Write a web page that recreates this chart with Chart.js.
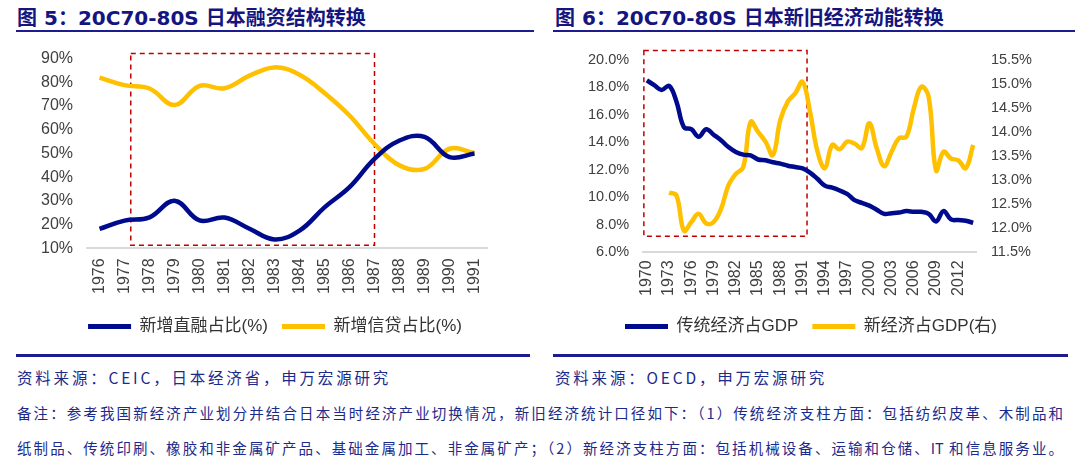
<!DOCTYPE html>
<html>
<head>
<meta charset="utf-8">
<script src="https://cdn.jsdelivr.net/npm/chart.js@4/dist/chart.umd.min.js"></script>
<style>
    body { margin: 0; width: 1080px; height: 468px; background: #fff; position: relative; overflow: hidden;
           font-family: "Liberation Sans", "Noto Sans CJK SC", sans-serif; }
    .titulo { position: absolute; top: 2px; font: bold 20px "DejaVu Sans", "Noto Sans CJK SC", sans-serif; color: #15157f; white-space: nowrap; }
    .linha { position: absolute; height: 2px; background: #1c1c8f; }
    .fonte { position: absolute; top: 366px; font-size: 15.5px; letter-spacing: 2.8px; color: #1c2a8c; font-family: "Noto Sans CJK SC", sans-serif; white-space: nowrap; }
    .nota { position: absolute; left: 17px; width: 1046px; font-size: 14.5px; color: #1c2a8c; font-family: "Noto Sans CJK SC", sans-serif;
            text-align: justify; text-align-last: justify; white-space: nowrap; }
    .caixa { position: absolute; width: 540px; }
</style>
</head>
<body>

<div class="titulo" style="left:17px">图 5：20C70-80S 日本融资结构转换</div>
<div class="linha" style="left:16px; width:518px; top:30px"></div>
<div class="titulo" style="left:555px">图 6：20C70-80S 日本新旧经济动能转换</div>
<div class="linha" style="left:553px; width:522px; top:30px"></div>

<div class="caixa" style="left:0; top:35px; height:310px"><canvas id="graficoFinanciamento"></canvas></div>
<div class="caixa" style="left:540px; top:37px; height:308px"><canvas id="graficoEconomia"></canvas></div>

<div class="linha" style="left:16px; width:514px; top:354px; height:3px"></div>
<div class="linha" style="left:553px; width:515px; top:354px; height:3px"></div>
<div class="fonte" style="left:17px">资料来源：CEIC，日本经济省，申万宏源研究</div>
<div class="fonte" style="left:555px">资料来源：OECD，申万宏源研究</div>
<div class="nota" style="top:402px">备注：参考我国新经济产业划分并结合日本当时经济产业切换情况，新旧经济统计口径如下：（1）传统经济支柱方面：包括纺织皮革、木制品和</div>
<div class="nota" style="top:437px">纸制品、传统印刷、橡胶和非金属矿产品、基础金属加工、非金属矿产；（2）新经济支柱方面：包括机械设备、运输和仓储、IT 和信息服务业。</div>

<script>
/* ============================
   DADOS - GRÁFICO 5
============================ */

const anosFin = ["1976", "1977", "1978", "1979", "1980", "1981", "1982", "1983",
                 "1984", "1985", "1986", "1987", "1988", "1989", "1990", "1991"];
const diretoPct = [18.2, 21.7, 23.1, 30.1, 21.8, 23.0, 18.3, 13.8, 17.5, 27.3, 35.8, 47.7, 55.5, 57.0, 48.5, 50.0];
const creditoPct = [82.0, 78.8, 77.4, 70.4, 78.5, 77.5, 82.8, 86.3, 83.2, 75.5, 66.0, 54.0, 45.0, 43.5, 52.0, 50.2];
const ticksFin = [10, 20, 30, 40, 50, 60, 70, 80, 90];

/* ============================
   DADOS - GRÁFICO 6
============================ */

const anosEco = ["1970", "1971", "1972", "1973", "1974", "1975", "1976", "1977", "1978", "1979",
                 "1980", "1981", "1982", "1983", "1984", "1985", "1986", "1987", "1988", "1989",
                 "1990", "1991", "1992", "1993", "1994", "1995", "1996", "1997", "1998", "1999",
                 "2000", "2001", "2002", "2003", "2004", "2005", "2006", "2007", "2008", "2009",
                 "2010", "2011", "2012", "2013", "2014"];
const tradicional = [18.5, 18.15, 17.8, 18.1, 16.95, 15.1, 14.95, 14.4, 14.95, 14.55,
                     14.15, 13.65, 13.3, 13.1, 13.05, 12.75, 12.7, 12.55, 12.45, 12.3,
                     12.2, 12.1, 11.8, 11.35, 10.85, 10.7, 10.5, 10.25, 9.8, 9.6,
                     9.4, 9.1, 8.8, 8.85, 8.9, 9.0, 8.95, 8.95, 8.8, 8.25,
                     9.0, 8.4, 8.35, 8.3, 8.15];
const novaEconomia = [null, null, null, 12.74, 12.68, 11.95, 12.13, 12.3, 12.1, 12.13,
                      12.4, 12.89, 13.13, 13.27, 14.21, 14.0, 13.8, 13.52, 14.25, 14.63,
                      14.8, 15.04, 14.42, 13.6, 13.25, 13.73, 13.64, 13.8, 13.76, 13.67,
                      14.18, 13.66, 13.29, 13.59, 13.87, 13.9, 14.49, 14.94, 14.73, 13.2,
                      13.59, 13.45, 13.41, 13.25, 13.73];
const ticksEsq = [6, 8, 10, 12, 14, 16, 18, 20];
const ticksDir = [11.5, 12.0, 12.5, 13.0, 13.5, 14.0, 14.5, 15.0, 15.5];

/* ============================
   ESTILO
============================ */

const AZUL = "#000a8c";
const AMARELO = "#ffc000";
const VERMELHO = "#c00000";
const CINZA_TEXTO = "#404040";
const FONTE = "'Liberation Sans', 'Noto Sans CJK SC', sans-serif";

// retângulo tracejado, em unidades dos eixos (índice de categoria / valor)
function pluginRetangulo(caixa, eixoY) {
    return {
        id: "retangulo",
        beforeDatasetsDraw(chart) {
            const x = chart.scales.x;
            const y = chart.scales[eixoY];
            const passo = x.getPixelForValue(1) - x.getPixelForValue(0);
            const x1 = x.getPixelForValue(0) + caixa.de * passo;
            const x2 = x.getPixelForValue(0) + caixa.ate * passo;
            const y1 = y.getPixelForValue(caixa.topo);
            const y2 = y.getPixelForValue(caixa.base);
            const ctx = chart.ctx;
            ctx.save();
            ctx.strokeStyle = VERMELHO;
            ctx.lineWidth = 1.5;
            ctx.setLineDash([5, 4]);
            ctx.strokeRect(x1, y1, x2 - x1, y2 - y1);
            ctx.restore();
        }
    };
}

// desloca a legenda na horizontal
function pluginDeslocaLegenda(dx) {
    return {
        id: "deslocaLegenda",
        afterLayout(chart) {
            chart.legend.left += dx;
            chart.legend.right += dx;
        }
    };
}

function legendaLinhas(chart) {
    const itens = Chart.defaults.plugins.legend.labels.generateLabels(chart);
    itens.forEach(i => { i.lineWidth = 0; i.fillStyle = chart.data.datasets[i.datasetIndex].borderColor; });
    return itens;
}

function serie(label, data, cor, eixo) {
    return {
        label, data,
        yAxisID: eixo,
        borderColor: cor,
        backgroundColor: cor,
        borderWidth: 4.5,
        pointRadius: 0,
        tension: 0.4,
        spanGaps: false
    };
}

function eixoX(rotulos, mostrar, espaco) {
    return {
        offset: true,
        grid: { display: false, drawTicks: false },
        border: { display: true, color: "#d9d9d9", width: 2 },
        ticks: {
            autoSkip: false, maxRotation: 90, minRotation: 90, padding: espaco,
            color: CINZA_TEXTO, font: { family: FONTE, size: 16 },
            callback: (v, i) => mostrar(i) ? rotulos[i] : ""
        }
    };
}

function eixoY(ticks, pos, casas, tamanho) {
    return {
        position: pos,
        min: ticks[0], max: ticks[ticks.length - 1],
        afterBuildTicks: s => { s.ticks = ticks.map(v => ({ value: v })); },
        grid: { display: false, drawTicks: false },
        border: { display: false },
        ticks: {
            autoSkip: false, padding: 14, color: CINZA_TEXTO, font: { family: FONTE, size: tamanho },
            callback: v => v.toFixed(casas) + "%"
        }
    };
}

function legenda() {
    return {
        position: "bottom",
        labels: {
            boxWidth: 43, boxHeight: 5, padding: 14,
            color: "#333", font: { family: FONTE, size: 17 },
            generateLabels: legendaLinhas
        }
    };
}

/* ============================
   GRÁFICO 5
============================ */

new Chart(document.getElementById("graficoFinanciamento"), {
    type: "line",
    data: {
        labels: anosFin,
        datasets: [
            serie("新增直融占比(%)", diretoPct, AZUL, "y"),
            serie("新增信贷占比(%)", creditoPct, AMARELO, "y")
        ]
    },
    options: {
        responsive: true, maintainAspectRatio: false, animation: false,
        layout: { padding: { left: 27, right: 53, top: 6, bottom: 0 } },
        scales: { x: eixoX(anosFin, () => true, 10), y: eixoY(ticksFin, "left", 0, 16) },
        plugins: { legend: legenda(), tooltip: { enabled: false } }
    },
    plugins: [
        pluginRetangulo({ de: 1.25, ate: 11, topo: 92.1, base: 11.3 }, "y"),
        pluginDeslocaLegenda(18)
    ]
});

/* ============================
   GRÁFICO 6
============================ */

new Chart(document.getElementById("graficoEconomia"), {
    type: "line",
    data: {
        labels: anosEco,
        datasets: [
            serie("传统经济占GDP", tradicional, AZUL, "y"),
            serie("新经济占GDP(右)", novaEconomia, AMARELO, "y1")
        ]
    },
    options: {
        responsive: true, maintainAspectRatio: false, animation: false,
        layout: { padding: { left: 34, right: 34, top: 6, bottom: 0 } },
        scales: {
            x: eixoX(anosEco, i => i % 3 === 0, 8),
            y: eixoY(ticksEsq, "left", 1, 14.5),
            y1: eixoY(ticksDir, "right", 1, 14.5)
        },
        plugins: { legend: legenda(), tooltip: { enabled: false } }
    },
    plugins: [
        pluginRetangulo({ de: -0.4, ate: 21.6, topo: 20.66, base: 7.17 }, "y"),
        pluginDeslocaLegenda(1)
    ]
});
</script>
</body>
</html>
